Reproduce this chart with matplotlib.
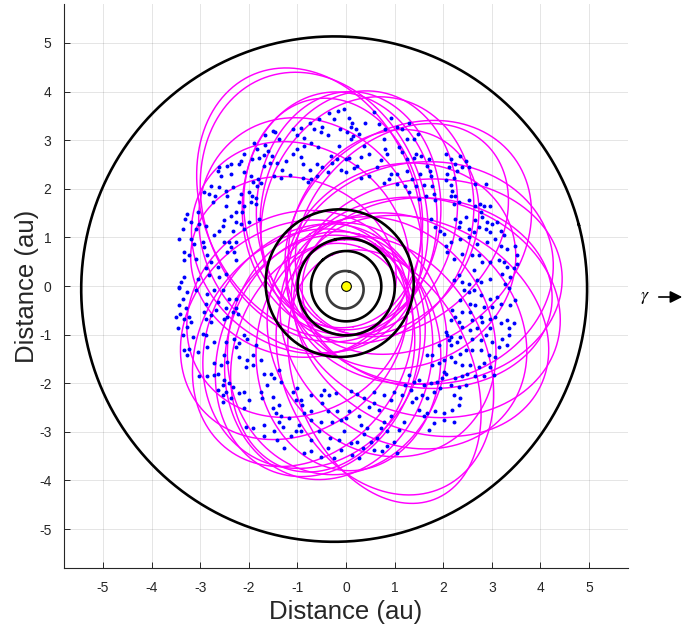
import numpy as np
import matplotlib
matplotlib.use("Agg")
import matplotlib.pyplot as plt
from matplotlib.patches import FancyArrowPatch

plt.rcParams['font.family'] = ['Liberation Sans', 'DejaVu Sans']
plt.rcParams['axes.unicode_minus'] = False
plt.rcParams['mathtext.fontset'] = 'stix'

# ---------------- data ----------------
# planets: semi-major axis (au), eccentricity, longitude of perihelion (deg)
planet_names = ["Mercury", "Venus", "Earth", "Mars", "Jupiter"]
planet_a = [0.387, 0.723, 1.000, 1.524, 5.203]
planet_e = [0.2056, 0.0068, 0.0167, 0.0934, 0.0484]
planet_peri = [77.5, 131.5, 102.9, 336.0, 14.7]
planet_colors = ["#3a3a3a", "black", "black", "black", "black"]

# comet-like orbits: perihelion q (au), aphelion Q (au), aphelion direction (deg)
orbit_q = [1.00, 1.10, 1.00, 1.15, 0.90, 1.10, 1.00, 1.20, 1.10, 1.00, 1.20, 0.70,
           1.10, 1.00, 1.20, 1.05, 1.30, 0.95, 1.15, 1.00, 1.20, 1.10, 1.25, 0.90,
           1.30, 1.00, 1.20, 0.85, 0.90, 0.85, 0.95, 0.85]
orbit_Q = [4.75, 4.60, 4.05, 4.00, 4.00, 4.35, 4.45, 4.30, 4.50, 4.50, 4.20, 4.75,
           4.05, 4.10, 4.00, 4.15, 3.90, 3.80, 3.60, 3.30, 3.50, 3.90, 3.80, 3.60,
           3.85, 4.00, 3.60, 4.10, 4.25, 3.95, 4.60, 3.90]
orbit_dir = [114, 112, 80, 72, 88, 38, 3, 10, -15, -28, -38, -67,
             -104, -112, -118, -125, -98, -88, 140, 160, -150, -140, 125, 55,
             -55, 95, 20, 45, -5, -108, -64, 100]

# asteroid positions (au)
ast_x = [-1.67,-1.51,-1.46,-1.38,-1.08,-0.93,-0.86,-0.75,-0.66,-0.55,-0.49,-0.34,-0.25,-0.16,-0.05,-0.12,-0.37,-0.52,-1.01,-0.73,
         -1.89,-1.83,-1.67,-1.60,-1.79,-1.68,-1.53,-1.41,-1.56,-1.68,-1.94,-2.09,-2.15,-2.20,-2.37,-2.44,-2.61,-2.64,-2.58,-2.37,
         -2.09,-1.96,-1.81,-1.75,-1.83,-1.92,-1.48,-1.34,-1.15,-1.31,-1.24,-1.10,-1.01,-0.92,-0.88,-0.74,-0.60,-0.49,-0.38,-0.28,
         -0.31,-0.18,-0.11,0.00,-0.73,-0.59,-0.79,-0.88,0.01,-0.14,-0.58,-0.86,
         -2.78,-2.92,-2.81,-2.70,-2.61,-2.47,-2.33,-2.44,-2.74,-2.47,-2.16,-1.99,-1.94,-1.85,-1.96,-1.86,-2.09,-2.20,-2.27,-2.13,
         -2.37,-2.51,-2.54,-2.27,-2.16,-1.99,-1.79,-2.09,-2.33,-2.61,-2.71,-3.05,-3.26,-3.31,-3.19,-3.02,-3.09,-3.36,-2.88,-3.43,
         -3.19,-2.95,-2.92,-3.12,-3.33,-3.22,-3.09,-3.33,-2.51,-2.40,-2.27,-2.37,-2.44,-2.30,-2.27,-2.85,-2.78,-2.64,-2.88,-2.81,
         -2.61,-2.47,-3.05,-3.33,-3.39,-3.43,
         0.06,0.12,0.10,0.03,0.20,0.15,0.11,0.27,0.40,0.57,0.68,0.81,0.92,1.05,1.16,1.29,1.26,1.40,1.48,0.78,
         0.37,0.30,0.47,0.06,0.23,0.16,0.30,0.47,0.64,0.71,0.85,0.81,1.09,1.16,1.26,1.40,1.43,1.55,1.70,1.67,
         1.72,1.75,1.53,1.36,1.26,1.05,0.92,0.88,0.78,1.05,1.22,1.43,1.60,1.77,1.81,1.64,1.50,1.29,1.84,2.05,
         2.16,2.25,2.35,2.46,2.53,2.39,2.29,2.12,2.08,2.22,2.05,2.15,2.18,2.15,2.25,2.32,2.22,2.53,2.66,2.75,
         2.83,2.97,2.87,2.66,2.77,2.80,2.66,2.46,2.35,2.25,2.32,2.53,2.63,2.73,2.90,3.00,3.11,2.87,2.97,3.18,
         3.24,3.07,3.31,3.48,3.18,2.90,2.70,2.53,2.35,2.15,2.05,2.01,1.74,1.84,1.94,2.08,2.22,2.39,2.59,2.73,
         2.80,2.97,3.14,3.24,3.31,3.45,3.52,3.52,3.21,2.97,2.77,2.53,2.39,2.63,2.32,2.22,3.28,3.38,2.70,
         -3.43,-3.26,-3.09,-3.36,-3.43,-3.29,-3.41,-3.49,-3.33,-3.22,-3.19,-3.26,-3.46,-3.36,-3.15,-3.33,-3.22,-3.26,-3.05,-2.88,
         -2.92,-2.88,-2.78,-2.67,-2.78,-2.85,-2.71,-2.54,-2.64,-2.47,-2.44,-2.33,-2.27,-2.23,-2.27,-2.40,-2.51,-2.88,-2.95,-2.85,
         -2.71,-2.47,-2.30,-2.27,-2.20,-2.09,-2.03,-1.86,-2.20,-2.03,-1.92,-2.06,-1.92,-1.75,-2.51,-2.44,-2.58,-2.71,-2.64,-2.85,
         -3.02,-2.71,-2.51,-2.40,-2.54,-2.64,-2.47,-2.54,-2.37,-2.20,-2.09,-2.33,-2.54,-2.09,-1.99,-1.68,-1.55,-1.48,-1.38,-1.34,
         -1.62,-1.75,-1.72,-1.51,-1.37,-1.51,-1.34,-1.44,-1.37,-1.30,-1.17,-1.10,-1.00,-0.93,-0.90,-1.03,-0.73,-0.52,-0.45,-0.35,
         -0.21,-0.49,-0.73,-0.86,-0.73,-0.96,-1.03,-0.52,-0.38,-0.18,-0.28,-0.11,-0.01,-1.68,-1.68,-1.92,-2.06,-1.48,-1.41,-1.27,
         -1.14,-0.93,-0.73,-0.56,-0.38,-0.32,-0.14,-0.04,-0.11,-0.25,-0.52,-0.73,-0.86,
         2.42,2.53,2.63,2.77,2.97,3.11,3.35,3.48,3.38,3.18,3.00,2.83,2.66,2.56,2.35,2.18,2.25,2.15,2.32,2.39,
         2.56,2.59,2.77,2.80,2.97,3.07,3.18,3.31,3.45,3.35,3.35,3.21,2.97,2.87,2.70,2.56,2.39,2.05,2.08,2.15,
         2.12,2.29,2.35,2.59,2.77,3.00,3.14,3.31,3.07,2.94,2.77,2.59,2.46,2.35,2.15,1.91,1.77,1.66,1.77,1.91,
         2.01,2.15,2.25,2.39,2.56,2.73,2.83,2.97,3.04,2.83,2.66,2.49,2.39,2.25,2.05,2.01,1.98,1.87,1.74,1.60,
         1.50,1.40,1.29,1.22,1.33,1.43,1.57,1.67,1.81,1.94,2.15,2.32,2.46,2.22,2.35,2.32,2.18,2.01,1.84,1.67,
         1.50,1.60,1.81,1.70,2.01,2.22,1.19,1.09,0.99,0.85,1.05,0.71,0.78,0.92,0.68,0.57,0.47,0.37,0.57,0.78,
         0.92,0.99,1.16,1.36,0.23,0.10,0.06,0.27,0.30,0.44,0.37,0.23,0.10,0.34,0.57,0.75,0.51,0.64,0.85,0.13,0.27]
ast_y = [3.11,3.19,3.17,3.02,3.22,3.24,3.05,3.35,3.22,3.43,3.28,3.55,3.44,3.60,3.65,3.22,3.10,3.17,3.10,2.95,
         2.95,2.81,2.90,2.78,2.64,2.69,2.68,2.54,2.54,2.47,2.61,2.71,2.58,2.51,2.51,2.47,2.44,2.37,2.27,2.30,
         2.34,2.27,2.20,2.12,2.06,2.14,2.27,2.23,2.28,2.39,2.58,2.71,2.81,2.66,2.51,2.39,2.51,2.44,2.35,2.54,
         2.68,2.61,2.39,2.61,2.20,2.27,2.13,2.23,2.34,2.88,2.85,2.88,
         2.06,1.93,1.89,1.86,2.03,1.96,2.03,1.86,1.72,1.65,1.89,1.93,1.86,1.82,1.73,1.69,1.65,1.72,1.52,1.52,
         1.45,1.35,1.24,1.31,1.28,1.31,1.37,1.17,1.14,1.14,1.04,1.52,1.48,1.38,1.31,1.28,1.17,1.17,1.24,0.97,
         0.97,0.90,0.80,0.87,0.70,0.63,0.56,0.53,0.90,0.90,0.90,0.80,0.70,0.70,0.53,0.63,0.49,0.39,0.36,0.22,
         0.18,0.25,0.15,0.18,0.08,-0.02,
         3.46,3.36,3.26,3.16,3.22,3.09,3.02,3.12,3.36,3.57,3.33,3.22,3.46,3.26,3.22,3.36,3.02,3.02,3.12,3.02,
         2.88,2.66,2.71,2.64,2.47,2.42,2.23,2.27,2.44,2.60,2.71,2.81,2.85,2.75,2.61,2.64,2.71,2.68,2.61,2.47,
         2.37,2.27,2.30,2.21,2.37,2.30,2.30,2.20,2.12,2.10,2.06,2.06,2.08,2.06,1.89,1.86,1.78,1.93,1.76,2.71,
         2.61,2.51,2.68,2.58,2.44,2.44,2.37,2.44,2.30,2.23,2.17,2.08,1.96,1.86,1.86,1.72,1.69,1.76,1.65,1.69,
         1.65,1.65,2.10,2.10,1.52,1.41,1.35,1.41,1.31,1.38,1.21,1.17,1.11,1.21,1.31,1.28,1.31,1.17,1.11,1.14,
         1.04,0.97,0.77,0.83,0.83,0.90,0.87,1.00,0.97,0.90,0.83,1.07,1.38,1.21,1.14,0.70,0.56,0.66,0.63,0.63,
         0.49,0.49,0.53,0.49,0.39,0.36,0.63,0.46,0.25,0.15,0.08,0.05,0.08,0.32,0.22,0.12,0.05,0.18,0.12,
         -0.05,-0.12,-0.09,-0.26,-0.40,-0.46,-0.57,-0.64,-0.67,-0.64,-0.74,-0.84,-0.87,-1.01,-1.05,-1.32,-1.30,-1.42,-1.35,-0.36,
         -0.53,-0.67,-0.60,-0.50,-0.74,-0.16,-0.09,-0.09,-0.33,-0.46,-0.64,-0.53,-0.46,-0.57,-0.26,-0.26,-0.67,-1.01,-0.98,-1.25,
         -1.15,-1.15,-1.08,-1.25,-1.18,-1.01,-1.08,-1.22,-1.46,-1.52,-1.63,-1.66,-1.42,-1.52,-1.42,-1.56,-1.63,-1.59,-1.80,-1.86,
         -1.86,-1.83,-1.93,-2.00,-2.04,-2.14,-2.17,-2.24,-2.31,-2.21,-2.17,-2.07,-2.38,-2.51,-2.34,-1.82,-1.80,-1.90,-1.73,-1.97,
         -2.04,-2.17,-2.31,-2.28,-2.45,-2.51,-2.68,-2.62,-2.79,-2.89,-2.72,-2.17,-2.10,-2.34,-2.45,-2.34,-2.24,-2.24,-2.14,-2.24,
         -2.21,-2.41,-2.58,-2.62,-2.75,-2.86,-2.99,-2.79,-2.58,-2.58,-2.79,-2.75,-2.72,-2.86,-3.09,-2.92,-2.89,-2.99,-3.16,-3.33,
         -3.09,-2.99,-3.16,-2.99,-3.33,-3.13,-3.16,-2.99,-3.37,-3.54,-3.51,-3.40,-3.44,
         -0.09,-0.12,-0.09,-0.19,-0.26,-0.23,-0.05,-0.29,-0.40,-0.36,-0.43,-0.43,-0.40,-0.36,-0.29,-0.50,-0.64,-0.70,-0.74,-0.53,
         -0.53,-0.70,-0.64,-0.74,-0.67,-0.64,-0.77,-0.70,-0.77,-0.87,-1.01,-1.08,-0.87,-1.01,-0.87,-0.91,-0.84,-0.94,-1.01,-1.05,
         -1.11,-1.15,-1.05,-1.08,-1.11,-1.15,-1.25,-1.22,-1.46,-1.42,-1.32,-1.32,-1.32,-1.39,-1.22,-1.22,-1.42,-1.42,-1.63,-1.59,
         -1.52,-1.46,-1.56,-1.63,-1.63,-1.66,-1.59,-1.66,-1.83,-1.86,-1.86,-1.80,-1.86,-1.90,-1.80,-1.76,-1.90,-1.97,-2.00,-2.04,
         -1.93,-1.97,-1.83,-2.04,-2.14,-2.31,-2.24,-2.31,-2.17,-2.10,-2.04,-2.07,-2.04,-2.24,-2.31,-2.45,-2.55,-2.75,-2.58,-2.62,
         -2.55,-2.68,-2.82,-2.96,-2.62,-2.79,-2.79,-2.96,-3.20,-3.30,-3.44,-2.92,-2.79,-2.68,-2.55,-2.41,-2.48,-2.31,-2.17,-2.24,
         -2.34,-2.17,-2.24,-2.38,-2.23,-2.16,-2.58,-2.68,-2.85,-2.92,-3.05,-3.20,-3.23,-3.33,-3.37,-3.40,-3.20,-3.13,-2.99,-3.47,-3.54]

x_ticks = [-5, -4, -3, -2, -1, 0, 1, 2, 3, 4, 5]
y_ticks = [-5, -4, -3, -2, -1, 0, 1, 2, 3, 4, 5]
axis_label = "Distance (au)"

# ---------------- figure ----------------
fig = plt.figure(figsize=(6.97, 6.29), dpi=100)
ax = fig.add_axes([64/697, 1 - 568/629, 564/697, 564/629])

E = np.linspace(0, 2*np.pi, 400)
for q, Q, d in zip(orbit_q, orbit_Q, orbit_dir):
    a = (q + Q) / 2
    e = (Q - q) / (Q + q)
    b = a*np.sqrt(1 - e**2)
    xp = a*(np.cos(E) - e)
    yp = b*np.sin(E)
    w = np.deg2rad(d + 180)
    ax.plot(xp*np.cos(w) - yp*np.sin(w), xp*np.sin(w) + yp*np.cos(w),
            color=(1, 0, 1), lw=1.05, zorder=2)

ax.scatter(ast_x, ast_y, s=8, color=(0, 0, 1), linewidths=0, zorder=3)

for a, e, pw, c in zip(planet_a, planet_e, planet_peri, planet_colors):
    b = a*np.sqrt(1 - e**2)
    xp = a*(np.cos(E) - e)
    yp = b*np.sin(E)
    w = np.deg2rad(pw)
    ax.plot(xp*np.cos(w) - yp*np.sin(w), xp*np.sin(w) + yp*np.cos(w),
            color=c, lw=1.9, zorder=4)

ax.plot([0], [0], 'o', ms=7, mfc=(1, 1, 0), mec='black', mew=0.8, zorder=5)

ax.set_xlim(-5.8, 5.8)
ax.set_ylim(-5.8, 5.8)
ax.set_aspect('equal', adjustable='box')
ax.set_xticks(x_ticks)
ax.set_yticks(y_ticks)
ax.grid(True, color=(0.15, 0.15, 0.15), alpha=0.12, lw=0.7)
ax.set_axisbelow(True)
for s in ['top', 'right']:
    ax.spines[s].set_visible(False)
for s in ['left', 'bottom']:
    ax.spines[s].set_color((0.15, 0.15, 0.15))
    ax.spines[s].set_linewidth(0.8)
ax.tick_params(direction='in', length=4, width=0.7, colors=(0.15, 0.15, 0.15),
               labelsize=10, pad=9)
ax.set_xlabel(axis_label, fontsize=18.5, color=(0.15, 0.15, 0.15), labelpad=4)
ax.set_ylabel(axis_label, fontsize=18.5, color=(0.15, 0.15, 0.15), labelpad=0)

fig.text(645/697, 1 - 298/629, r'$\gamma$', fontsize=13, ha='center', va='center')
arr = FancyArrowPatch((656/697, 1 - 297/629), (685/697, 1 - 297/629),
                      transform=fig.transFigure, arrowstyle='-|>',
                      mutation_scale=18, lw=1.2, color='black')
fig.patches.append(arr)

fig.savefig("out.png", dpi=100)
